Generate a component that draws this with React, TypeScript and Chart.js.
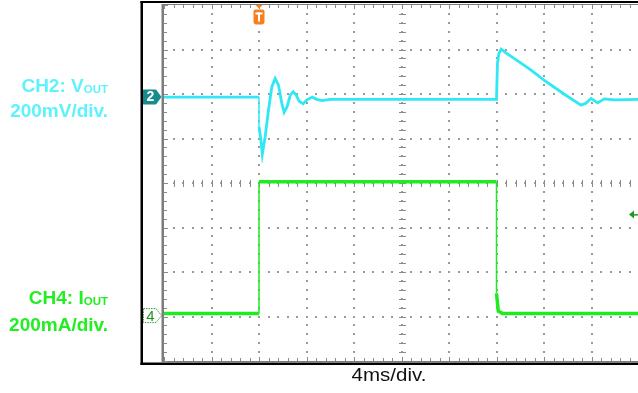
import React, { useEffect, useRef } from "react";
import { Chart, registerables } from "chart.js";

Chart.register(...registerables);

// Time axis: 4 ms/div, trigger at 0 ms, 10 divisions shown
const timeMin = -8;
const timeMax = 32;
const divMin = -4;
const divMax = 4;

// CH2: Vout trace (vertical position in divisions)
const ch2Time = [-8, 0, 0, 0.16, 0.28, 0.52, 0.8, 1.08, 1.36, 1.64, 1.92, 2.12, 2.36, 2.64, 2.88, 3.12, 3.4, 3.72, 4.04, 4.48, 4.88, 5.32, 6.0, 20.0, 20.08, 20.2, 20.4, 20.76, 21.48, 22.88, 24.0, 25.68, 27.12, 27.52, 27.96, 28.52, 29.08, 29.92, 32];
const ch2Div = [1.93, 1.93, 1.27, 0.97, 0.65, 1.04, 1.64, 2.16, 2.35, 2.2, 1.79, 1.59, 1.71, 1.98, 2.05, 1.98, 1.83, 1.78, 1.87, 1.93, 1.88, 1.85, 1.88, 1.88, 2.69, 2.91, 3.01, 2.93, 2.8, 2.54, 2.31, 2.0, 1.75, 1.79, 1.9, 1.8, 1.89, 1.87, 1.88];

// CH4: Iout trace (vertical position in divisions)
const ch4Time = [-8, 0, 0, 20, 20, 20.15, 20.5, 32];
const ch4Div = [-2.93, -2.93, 0.03, 0.03, -2.48, -2.88, -2.93, -2.93];

// Markers
const ch2RefDiv = 1.93;
const ch4RefDiv = -2.98;
const triggerTime = 0;
const triggerLevelDiv = -0.71;

const CYAN = "#30E8F5";
const GREEN = "#20EA20";

const scopePlugin = {
  id: "scope",
  beforeDatasetsDraw(chart: any) {
    const { ctx, chartArea: a, scales } = chart;
    const x = scales.x;
    const y = scales.y;
    ctx.save();
    // outer black frame
    ctx.fillStyle = "#000";
    ctx.fillRect(140.5, 1, 2.5, 364);
    ctx.fillRect(140.5, 1, 560, 2);
    ctx.fillRect(140.5, 362.5, 560, 2.5);
    // gray edge bands
    ctx.fillStyle = "#7c7c7c";
    ctx.fillRect(a.left - 2.5, a.top - 1, 2.5, a.bottom - a.top + 2);
    ctx.fillRect(a.left, a.top - 1, a.right - a.left, 1);
    ctx.fillRect(a.left, a.bottom, a.right - a.left, 1);

    const xStep = (timeMax - timeMin) / 50;
    const yStep = (divMax - divMin) / 40;
    // edge ticks
    ctx.fillStyle = "#8a8a8a";
    for (let i = 0; i <= 50; i++) {
      const px = Math.round(x.getPixelForValue(timeMin + i * xStep));
      const len = i % 5 === 0 ? 4 : 3;
      ctx.fillRect(px, a.top, 1, len);
      ctx.fillRect(px, a.bottom - len, 1, len);
    }
    for (let j = 0; j <= 40; j++) {
      const py = Math.round(y.getPixelForValue(divMin + j * yStep));
      const len = j % 5 === 0 ? 4 : 3;
      ctx.fillRect(a.left, py, len, 1);
    }
    // grid dots along major lines
    ctx.fillStyle = "#9a9a9a";
    for (let k = 1; k < 10; k++) {
      const px = Math.round(x.getPixelForValue(timeMin + k * 4));
      for (let j = 1; j < 40; j++) {
        const py = Math.round(y.getPixelForValue(divMin + j * yStep));
        ctx.fillRect(px - 1, py - 1, 2, 2);
      }
    }
    for (let k = 1; k < 8; k++) {
      const py = Math.round(y.getPixelForValue(divMin + k));
      for (let i = 1; i < 50; i++) {
        const px = Math.round(x.getPixelForValue(timeMin + i * xStep));
        ctx.fillRect(px - 1, py - 1, 2, 2);
      }
    }
    // center cross ticks
    ctx.fillStyle = "#8a8a8a";
    const cx = Math.round(x.getPixelForValue((timeMin + timeMax) / 2));
    const cy = Math.round(y.getPixelForValue(0));
    for (let i = 1; i < 50; i++) {
      const px = Math.round(x.getPixelForValue(timeMin + i * xStep));
      ctx.fillRect(px, cy - 3, 1, 7);
    }
    for (let j = 1; j < 40; j++) {
      const py = Math.round(y.getPixelForValue(divMin + j * yStep));
      ctx.fillRect(cx - 3, py, 7, 1);
    }
    ctx.restore();
  },
  afterDatasetsDraw(chart: any) {
    const { ctx, chartArea: a, scales } = chart;
    const x = scales.x;
    const y = scales.y;
    ctx.save();
    // CH2 reference marker
    const y2 = y.getPixelForValue(ch2RefDiv);
    ctx.fillStyle = "#178C8C";
    ctx.beginPath();
    ctx.moveTo(143, y2 - 7.5);
    ctx.lineTo(156, y2 - 7.5);
    ctx.lineTo(161.5, y2);
    ctx.lineTo(156, y2 + 7.5);
    ctx.lineTo(143, y2 + 7.5);
    ctx.closePath();
    ctx.fill();
    ctx.fillStyle = "#fff";
    ctx.font = "bold 14px 'Liberation Sans', Arial, sans-serif";
    ctx.textAlign = "center";
    ctx.textBaseline = "middle";
    ctx.fillText("2", 150.5, y2 + 0.5);

    // CH4 reference marker
    const y4 = y.getPixelForValue(ch4RefDiv);
    ctx.fillStyle = "#fff";
    ctx.beginPath();
    ctx.moveTo(143.5, y4 - 7);
    ctx.lineTo(156, y4 - 7);
    ctx.lineTo(161.5, y4);
    ctx.lineTo(156, y4 + 7);
    ctx.lineTo(143.5, y4 + 7);
    ctx.closePath();
    ctx.fill();
    ctx.strokeStyle = "#2e9e2e";
    ctx.lineWidth = 1;
    ctx.setLineDash([1.5, 1]);
    ctx.stroke();
    ctx.setLineDash([]);
    ctx.fillStyle = "#1f951f";
    ctx.font = "15px 'Liberation Sans', Arial, sans-serif";
    ctx.fillText("4", 150.5, y4 + 1);

    // trigger position marker
    const tx = x.getPixelForValue(triggerTime);
    ctx.fillStyle = "#F7801E";
    ctx.beginPath();
    ctx.moveTo(tx - 3.5, a.top);
    ctx.lineTo(tx + 3.5, a.top);
    ctx.lineTo(tx, a.top + 3.5);
    ctx.closePath();
    ctx.fill();
    ctx.beginPath();
    const bx = tx - 5.5;
    const by = a.top + 4.5;
    const bw = 11;
    const bh = 15;
    ctx.moveTo(bx + 2, by);
    ctx.lineTo(bx + bw - 2, by);
    ctx.quadraticCurveTo(bx + bw, by, bx + bw, by + 2);
    ctx.lineTo(bx + bw, by + bh - 3);
    ctx.quadraticCurveTo(bx + bw, by + bh, bx + bw - 3, by + bh);
    ctx.lineTo(bx + 3, by + bh);
    ctx.quadraticCurveTo(bx, by + bh, bx, by + bh - 3);
    ctx.lineTo(bx, by + 2);
    ctx.quadraticCurveTo(bx, by, bx + 2, by);
    ctx.closePath();
    ctx.fill();
    ctx.fillStyle = "#fff";
    ctx.fillRect(tx - 3.5, by + 3, 7, 2);
    ctx.fillRect(tx - 1, by + 3, 2, 9);

    // trigger level arrow
    const ty = y.getPixelForValue(triggerLevelDiv);
    ctx.fillStyle = "#1f9a1f";
    ctx.beginPath();
    ctx.moveTo(629, ty);
    ctx.lineTo(634, ty - 4);
    ctx.lineTo(634, ty + 4);
    ctx.closePath();
    ctx.fill();
    ctx.fillRect(633, ty - 0.5, 8, 1.5);
    ctx.restore();
  },
};

export default function App() {
  const canvasRef = useRef<HTMLCanvasElement | null>(null);

  useEffect(() => {
    const canvas = canvasRef.current;
    if (!canvas) return;
    const segWidth = (w: number) => ({
      borderWidth: (c: any) => (c.p0.parsed.x === c.p1.parsed.x ? 1.5 : w),
    });
    const chart = new Chart(canvas, {
      type: "scatter",
      data: {
        datasets: [
          {
            label: "CH4",
            data: ch4Time.map((t, i) => ({ x: t, y: ch4Div[i] })),
            showLine: true,
            borderColor: GREEN,
            borderWidth: 3.5,
            pointRadius: 0,
            tension: 0,
            segment: segWidth(3.5),
          },
          {
            label: "CH2",
            data: ch2Time.map((t, i) => ({ x: t, y: ch2Div[i] })),
            showLine: true,
            borderColor: CYAN,
            borderWidth: 3,
            pointRadius: 0,
            tension: 0,
            segment: segWidth(2.8),
          },
        ],
      },
      options: {
        responsive: false,
        animation: false,
        devicePixelRatio: 1,
        layout: { padding: { left: 164, top: 5, right: 21, bottom: 32 } },
        plugins: { legend: { display: false }, tooltip: { enabled: false } },
        scales: {
          x: { type: "linear", min: timeMin, max: timeMax, display: false },
          y: { type: "linear", min: divMin, max: divMax, display: false },
        },
      },
      plugins: [scopePlugin],
    } as any);
    return () => chart.destroy();
  }, []);

  const labelBase: React.CSSProperties = {
    position: "absolute",
    right: 530,
    fontFamily: "'Liberation Sans', Arial, sans-serif",
    fontWeight: "bold",
    fontSize: 19,
    lineHeight: "19px",
    whiteSpace: "nowrap",
    textAlign: "right",
  };
  const sub: React.CSSProperties = { fontSize: 11.5, verticalAlign: -1 };

  return (
    <div
      style={{
        position: "fixed",
        left: 0,
        top: 0,
        width: 638,
        height: 393,
        overflow: "hidden",
        background: "#fff",
      }}
    >
      <canvas
        ref={canvasRef}
        width={660}
        height={393}
        style={{ position: "absolute", left: 0, top: 0, width: 660, height: 393 }}
      />
      <div style={{ ...labelBase, top: 76, color: "#5EF2FF" }}>
        CH2: V<span style={sub}>OUT</span>
      </div>
      <div style={{ ...labelBase, top: 101, color: "#5EF2FF" }}>200mV/div.</div>
      <div style={{ ...labelBase, top: 288, color: "#22EE22" }}>
        CH4: I<span style={sub}>OUT</span>
      </div>
      <div style={{ ...labelBase, top: 315, color: "#22EE22" }}>200mA/div.</div>
      <div
        style={{
          position: "absolute",
          left: 389,
          top: 366,
          transform: "translateX(-50%) scaleX(1.14)",
          fontFamily: "'Liberation Sans', Arial, sans-serif",
          fontSize: 18,
          lineHeight: "18px",
          color: "#111",
          whiteSpace: "nowrap",
        }}
      >
        4ms/div.
      </div>
    </div>
  );
}
